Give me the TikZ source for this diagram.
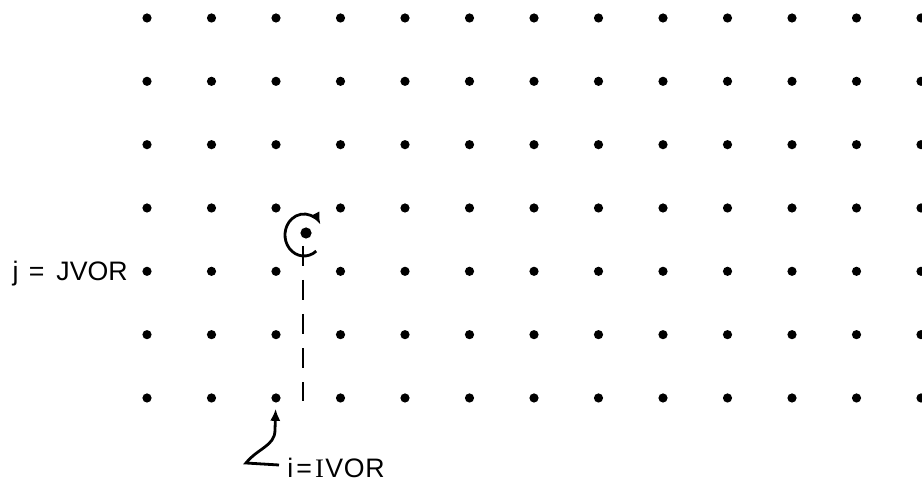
\documentclass[tikz,border=0pt]{standalone}
\usepackage{fontspec}
\setmainfont{Liberation Sans}
\newfontfamily\serifI{Liberation Serif}
\usetikzlibrary{arrows.meta,positioning}

\begin{document}
\begin{tikzpicture}[x=0.25mm, y=-0.25mm,
  gdot/.style={circle, fill=black, inner sep=0pt, minimum size=2.3mm},
  lbl/.style={font=\fontsize{19}{22}\selectfont, inner sep=0pt},
  pen/.style={line width=0.7mm}]
  \useasboundingbox (0,0) rectangle (922,484);
  % grid points
  \foreach \c in {0,...,12}
    \foreach \r in {0,...,6}
      \node[gdot] (d-\c-\r) at ({147+64.5*\c},{18+63.33*\r}) {};
  % vortex and its sense of rotation
  \node[gdot, minimum size=2.8mm] (vort) at (306,233) {};
  \draw[pen, -{Latex[length=3mm, width=2.6mm]}]
    (304,235) ++(50:19 and 21) arc[start angle=50, end angle=330, x radius=19, y radius=21];
  \coordinate (dtop) at (303,246);
  \coordinate (dbot) at (303,401);
  \draw[pen, dash pattern=on 5mm off 3.5mm] (dtop) -- (dbot);
  % labels
  \node[lbl, anchor=base east] (jlab) at (128,281)
    {j\hspace{2.6mm}=\hspace{3mm}JVOR};
  \node[lbl, anchor=base west] (ilab) at (287,477)
    {i\hspace{0.8mm}=\hspace{0.8mm}{\serifI I}\hspace{0.3mm}V\hspace{0.2mm}O\hspace{0.2mm}R};
  \coordinate (itail) at (279,465);
  \draw[pen, -{Latex[length=3mm, width=2.6mm]}, shorten >=1.5mm]
    (itail) -- (246,463) .. controls (258,448) and (275,446) .. (275,430) -- (d-2-6);
\end{tikzpicture}
\end{document}
